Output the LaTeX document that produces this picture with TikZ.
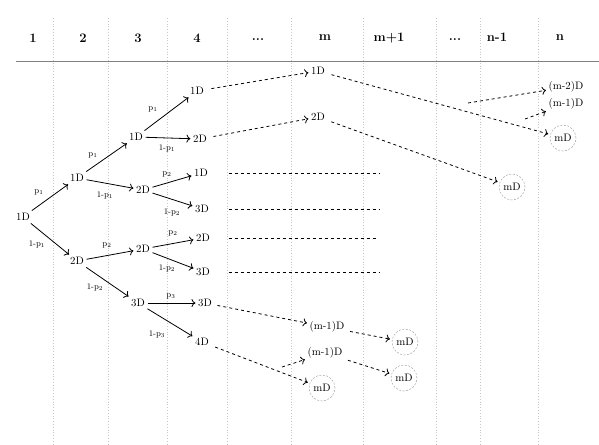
\documentclass[tikz,border=0pt]{standalone}
\usetikzlibrary{arrows.meta}
\begin{document}
\begin{tikzpicture}[x=1pt,y=-1pt,
  tip/.style={-{Computer Modern Rightarrow[length=4pt,width=8pt]}},
  st/.style={font=\fontsize{10.8}{12}\selectfont,inner sep=2.5pt},
  lb/.style={font=\fontsize{8.5}{10}\selectfont,inner sep=0pt},
  hd/.style={font=\fontsize{13}{15}\selectfont\bfseries,inner sep=0pt},
  ed/.style={tip,line width=0.8pt},
  ds/.style={tip,line width=0.8pt,dash pattern=on 3pt off 3pt},
  dl/.style={line width=0.8pt,dash pattern=on 3pt off 3pt},
  cir/.style={circle,draw=gray!70,dash pattern=on 2pt off 1.5pt,line width=0.5pt,minimum size=26pt,inner sep=0pt,font=\fontsize{10.8}{12}\selectfont},
  vline/.style={gray!45,dotted,line width=0.8pt}]
\useasboundingbox (0,0) rectangle (599,444);
% grid
\foreach \xx in {53,108,167,227,291,363,436,480,538}
  \draw[vline] (\xx,18) -- (\xx,444);
\draw[gray,line width=0.9pt] (16,61) -- (599,61);
% headers
\node[hd] (h1) at (33,38) {1};
\node[hd] (h2) at (83,38) {2};
\node[hd] (h3) at (138,38) {3};
\node[hd] (h4) at (197,38) {4};
\node[hd] (h5) at (258,40) {...};
\node[hd] (h6) at (325,38) {m};
\node[hd] (h7) at (389,38) {m+1};
\node[hd] (h8) at (455,40) {...};
\node[hd] (h9) at (497,37) {n-1};
\node[hd] (h10) at (560,38) {n};
% tree nodes
\node[st] (r) at (23,217) {1D};
\node[st] (a1) at (77,178) {1D};
\node[st] (a2) at (77,261) {2D};
\node[st] (b1) at (136,137) {1D};
\node[st] (b2) at (143,190) {2D};
\node[st] (b3) at (143,249) {2D};
\node[st] (b4) at (138,303) {3D};
\node[st] (c1) at (197,91) {1D};
\node[st] (c2) at (200,139) {2D};
\node[st] (c3) at (201,173) {1D};
\node[st] (c4) at (202,209) {3D};
\node[st] (c5) at (203,238) {2D};
\node[st] (c6) at (203,272) {3D};
\node[st] (c7) at (205,303) {3D};
\node[st] (c8) at (202,342) {4D};
% m column
\node[st] (m1) at (318,71) {1D};
\node[st] (m2) at (318,117) {2D};
\node[st] (mm1) at (327,327) {(m-1)D};
\node[st] (mm2) at (325,353) {(m-1)D};
\node[cir] (mc3) at (322,388) {mD};
% m+1 column
\node[cir] (pc1) at (405,342) {mD};
\node[cir] (pc2) at (404,378) {mD};
% n-1 column
\node[cir] (qc1) at (512,187) {mD};
% n column
\node[st] (nm2) at (566,87) {(m-2)D};
\node[st] (nm1) at (566,104) {(m-1)D};
\node[cir] (nc) at (563,138) {mD};
% solid edges
\draw[ed] (r) -- (a1);
\draw[ed] (r) -- (a2);
\draw[ed] (a1) -- (b1);
\draw[ed] (a1) -- (b2);
\draw[ed] (a2) -- (b3);
\draw[ed] (a2) -- (b4);
\draw[ed] (b1) -- (c1);
\draw[ed] (b1) -- (c2);
\draw[ed] (b2) -- (c3);
\draw[ed] (b2) -- (c4);
\draw[ed] (b3) -- (c5);
\draw[ed] (b3) -- (c6);
\draw[ed] (b4) -- (c7);
\draw[ed] (b4) -- (c8);
% edge labels
\node[lb] (l1) at (39,192) {p$_1$};
\node[lb] (l2) at (37,244) {1-p$_1$};
\node[lb] (l3) at (93,155) {p$_1$};
\node[lb] (l4) at (105,195) {1-p$_1$};
\node[lb] (l5) at (153,109) {p$_1$};
\node[lb] (l6) at (167,148) {1-p$_1$};
\node[lb] (l7) at (167,174) {p$_2$};
\node[lb] (l8) at (172,212) {1-p$_2$};
\node[lb] (l9) at (107,245) {p$_2$};
\node[lb] (l10) at (95,287) {1-p$_2$};
\node[lb] (l11) at (173,233) {p$_2$};
\node[lb] (l12) at (167,268) {1-p$_2$};
\node[lb] (l13) at (171,296) {p$_3$};
\node[lb] (l14) at (157,334) {1-p$_3$};
% dashed arrows
\draw[ds,shorten <=5pt] (c1) -- (m1);
\draw[ds,shorten <=4pt] (c2) -- (m2);
\draw[ds,shorten <=4pt,shorten >=2pt] (m1) -- (nc);
\draw[ds,shorten <=4pt,shorten >=2pt] (m2) -- (qc1);
\coordinate (s1) at (468,103);
\coordinate (s2) at (525,119);
\draw[ds] (s1) -- (nm2);
\draw[ds] (s2) -- (nm1);
\draw[ds,shorten <=3pt] (c7) -- (mm1);
\draw[ds,shorten <=3pt,shorten >=2pt] (mm1) -- (pc1);
\draw[ds,shorten <=4pt,shorten >=2pt] (c8) -- (mc3);
\coordinate (s3) at (282,367);
\draw[ds] (s3) -- (mm2);
\draw[ds,shorten <=3pt,shorten >=2pt] (mm2) -- (pc2);
% horizontal dashed lines
\coordinate (e3) at (380,173);
\coordinate (e4) at (380,209);
\coordinate (e5) at (377,238);
\coordinate (e6) at (380,272);
\draw[dl,shorten <=18pt] (c3) -- (e3);
\draw[dl,shorten <=17pt] (c4) -- (e4);
\draw[dl,shorten <=16pt] (c5) -- (e5);
\draw[dl,shorten <=16pt] (c6) -- (e6);
\end{tikzpicture}
\end{document}
